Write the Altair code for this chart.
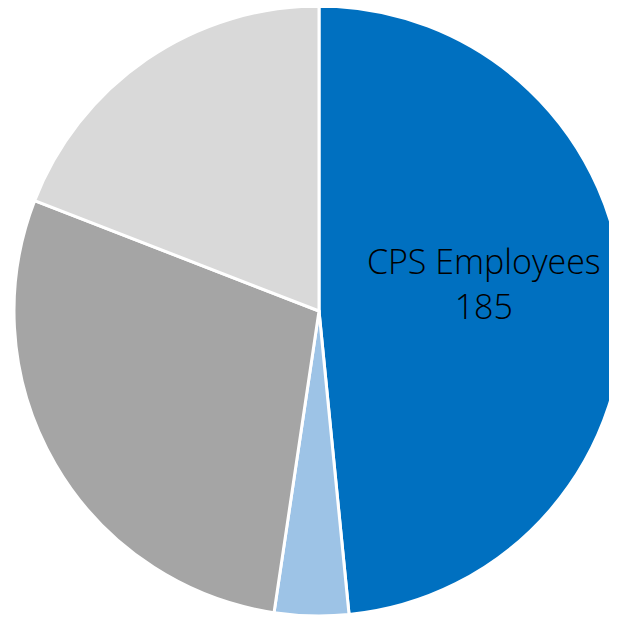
import altair as alt
import pandas as pd

categories = ["CPS Employees", "Segment 2", "Segment 3", "Segment 4"]
values = [185, 15, 109, 73]
colors = ["#0070C0", "#9DC3E6", "#A5A5A5", "#D9D9D9"]
show_label = [True, False, False, False]

df = pd.DataFrame({
    "category": categories,
    "value": values,
    "order": list(range(len(categories))),
    "show": show_label,
})
df["label"] = [[c, str(v)] for c, v in zip(categories, values)]

base = alt.Chart(df).encode(
    theta=alt.Theta("value:Q", stack=True),
    order=alt.Order("order:Q", sort="ascending"),
    x=alt.value(311),
    y=alt.value(303),
)

pie = base.mark_arc(
    outerRadius=305, stroke="white", strokeWidth=3
).encode(
    color=alt.Color("category:N", scale=alt.Scale(domain=categories, range=colors), legend=None),
)

text = base.mark_text(
    radius=165, font="Open Sans", fontSize=34, fontWeight=300, color="black",
    lineHeight=45, baseline="middle", align="center", dy=-39
).encode(
    text="label:N"
).transform_filter("datum.show")

chart = alt.layer(pie, text).properties(
    width=601, height=610, padding=0, autosize=alt.AutoSizeParams(type="none")
).configure_view(stroke=None)

chart.save("out.html", embed_options={"renderer": "svg", "actions": False})
